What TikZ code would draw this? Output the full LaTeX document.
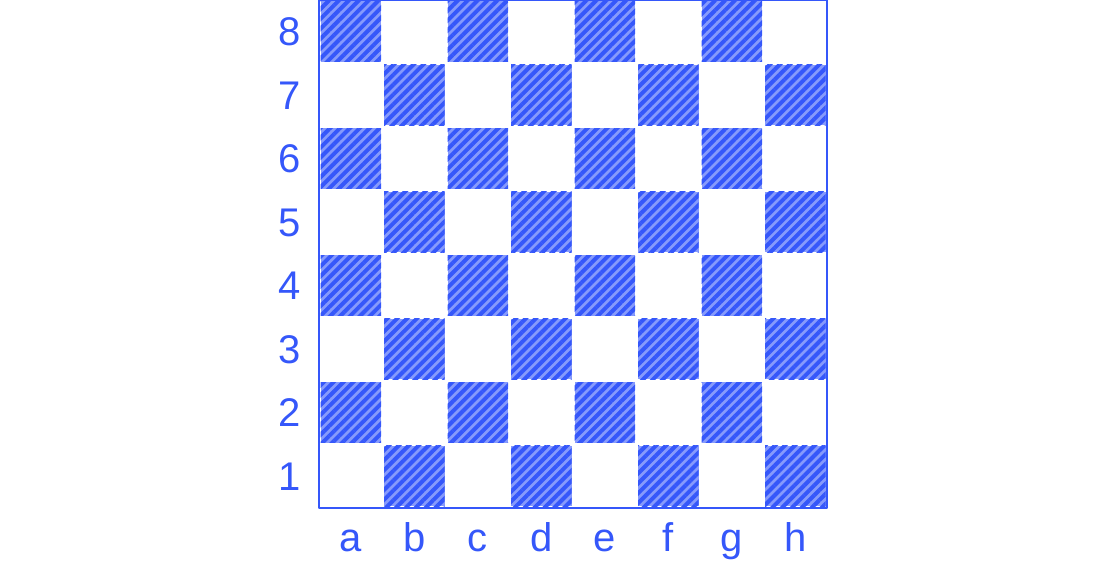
\documentclass[tikz,border=0pt]{standalone}
\usepackage{fontspec}
\setmainfont{Liberation Sans}
\usetikzlibrary{patterns.meta}
\definecolor{inkb}{HTML}{3557FA}

\begin{document}
\begin{tikzpicture}[x=1pt,y=1pt,font=\fontsize{40}{40}\selectfont,line cap=round,line join=round]
  \useasboundingbox (0,0) rectangle (1116,577);
  \def\sq{63.5}

  % dark squares
  \foreach \c in {0,...,7}{
    \foreach \r in {0,...,7}{
      \pgfmathtruncatemacro{\odd}{mod(\c+\r,2)}
      \ifnum\odd=1\relax
        \fill[inkb!60] (319+\c*\sq+1.5,69+\r*\sq+1.5) rectangle ++(\sq-3,\sq-3);
        \fill[pattern={Lines[angle=45,distance=7pt,line width=4pt]},pattern color=inkb]
          (319+\c*\sq+1.5,69+\r*\sq+1.5) rectangle ++(\sq-3,\sq-3);
      \fi
    }
  }
  \draw[inkb,line width=2.8pt] (319,69) rectangle (319+8*\sq,69+8*\sq);

  % labels
  \foreach \r in {1,...,8}
    \node[inkb,anchor=base] (r\r) at (290,69+\r*\sq-.5*\sq-14) {\r};
  \foreach \f [count=\i from 0] in {a,b,c,d,e,f,g,h}
    \node[inkb,anchor=base] (f\f) at (319+\i*\sq+.5*\sq,25) {\f};
\end{tikzpicture}
\end{document}
